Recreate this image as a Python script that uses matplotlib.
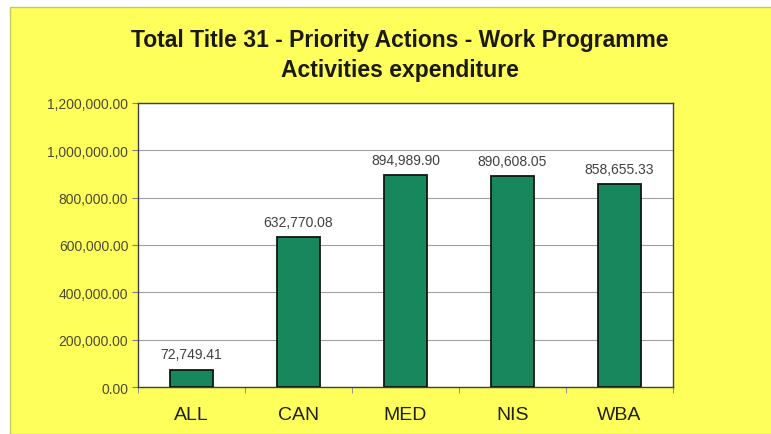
import matplotlib.pyplot as plt
import numpy as np
from matplotlib.patches import Rectangle

categories = ["ALL", "CAN", "MED", "NIS", "WBA"]
expenditure = [72749.41, 632770.08, 894989.90, 890608.05, 858655.33]
yticks = [0, 200000, 400000, 600000, 800000, 1000000, 1200000]

plt.rcParams['font.family'] = ['Liberation Sans', 'DejaVu Sans']

fig = plt.figure(figsize=(7.71, 4.35), dpi=100)
fig.patch.set_facecolor('white')

# yellow chart area with thin frame, kept behind the axes
bg = Rectangle((10 / 771, 0), 1, 1 - 8 / 435, transform=fig.transFigure,
               facecolor='#ffff5c', edgecolor='#c8c860', linewidth=1.0, zorder=-10)
fig.add_artist(bg)

ax = fig.add_axes([138 / 771, 1 - 388 / 435, 535 / 771, 284 / 435])
ax.set_facecolor('white')

x = np.arange(len(categories))
ax.bar(x, expenditure, width=0.4, color='#18875d', edgecolor='#101810', linewidth=1.3, zorder=3)

for xi, v in zip(x, expenditure):
    ax.text(xi, v + 35000, f"{v:,.2f}", ha='center', va='bottom', fontsize=10, color='#404040')

ax.set_xlim(-0.5, len(categories) - 0.5)
ax.set_ylim(0, 1200000)
ax.set_yticks(yticks)
ax.set_yticklabels([f"{t:,.2f}" for t in yticks], fontsize=10, color='#4a4a30')
ax.set_xticks(x)
ax.set_xticklabels(categories, fontsize=14, color='#202010')
ax.set_xticks(np.arange(len(categories) + 1) - 0.5, minor=True)
ax.tick_params(axis='x', which='major', length=0, pad=14)
ax.tick_params(axis='x', which='minor', length=4, color='#808080')
ax.tick_params(axis='y', length=4, color='#808080', pad=3)
ax.yaxis.grid(True, color='#a0a0a0', linewidth=0.8, zorder=0)
for s in ax.spines.values():
    s.set_color('#404040')
    s.set_linewidth(1.0)

fig.text(400 / 771, 1 - 40 / 435, "Total Title 31 - Priority Actions - Work Programme",
         ha='center', va='center', fontsize=16.5, fontweight='bold', color='#1a1a10')
fig.text(400 / 771, 1 - 70 / 435, "Activities expenditure",
         ha='center', va='center', fontsize=16.5, fontweight='bold', color='#1a1a10')

fig.savefig('out.png', dpi=100, facecolor=fig.get_facecolor())
